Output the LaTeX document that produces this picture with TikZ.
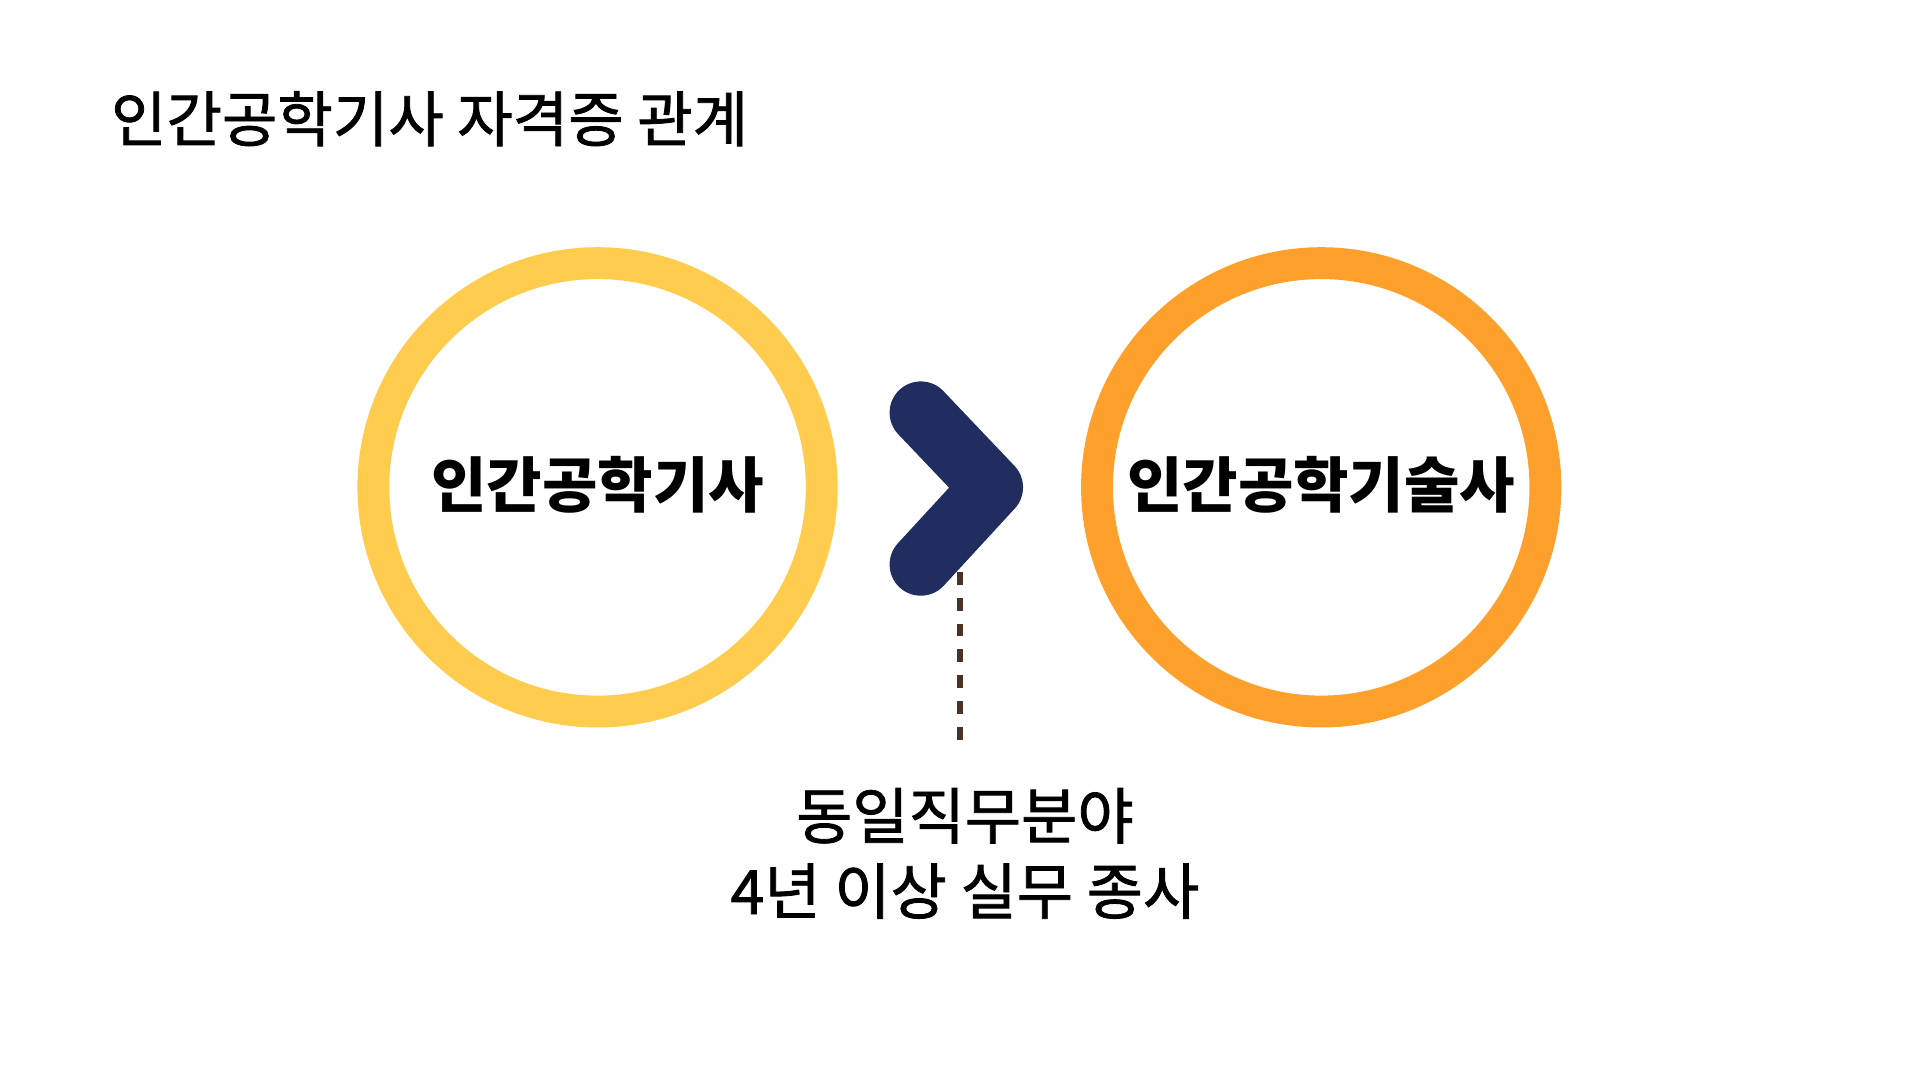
\documentclass[tikz,border=0pt]{standalone}
\usepackage{fontspec}
\newfontfamily\cjk{Noto Sans CJK KR}
\newfontfamily\cjkm[FakeBold=1.3]{Noto Sans CJK KR}
\definecolor{yel}{HTML}{FFCC4D}
\definecolor{ora}{HTML}{FFA02C}
\definecolor{navy}{HTML}{212D5E}
\definecolor{brn}{HTML}{4A3226}
\begin{document}
\begin{tikzpicture}[x=0.01cm,y=-0.01cm,
  ring/.style={draw=#1,line width=7.4pt,circle,minimum size=3.66cm,inner sep=0pt},
  lbl/.style={font=\cjk\fontsize{14}{17}\selectfont\bfseries}]
\useasboundingbox[fill=white] (0,0) rectangle (1568,882);
\node[anchor=west,inner sep=0pt,font=\cjkm\fontsize{14}{17}\selectfont] (title) at (90,97) {인간공학기사 자격증 관계};
\node[ring=yel] (c1) at (488,398) {};
\node[ring=ora] (c2) at (1079,398) {};
\node[lbl] (t1) at (488,396) {인간공학기사};
\node[lbl] (t2) at (1079,396) {인간공학기술사};
\coordinate (a1) at (752,337);
\coordinate (a2) at (810,398);
\coordinate (a3) at (752,461);
\draw[navy,line width=14.5pt,line cap=round,line join=round] (a1) -- (a2) -- (a3);
\coordinate (d1) at (784,467);
\coordinate (d2) at (784,605);
\draw[brn,line width=1.2pt,dash pattern=on 3pt off 3pt] (d1) -- (d2);
\node[font=\cjkm\fontsize{14.2}{18.5}\selectfont,align=center] (note) at (788,697) {동일직무분야\\[-1pt]4년 이상 실무 종사};
\end{tikzpicture}
\end{document}
